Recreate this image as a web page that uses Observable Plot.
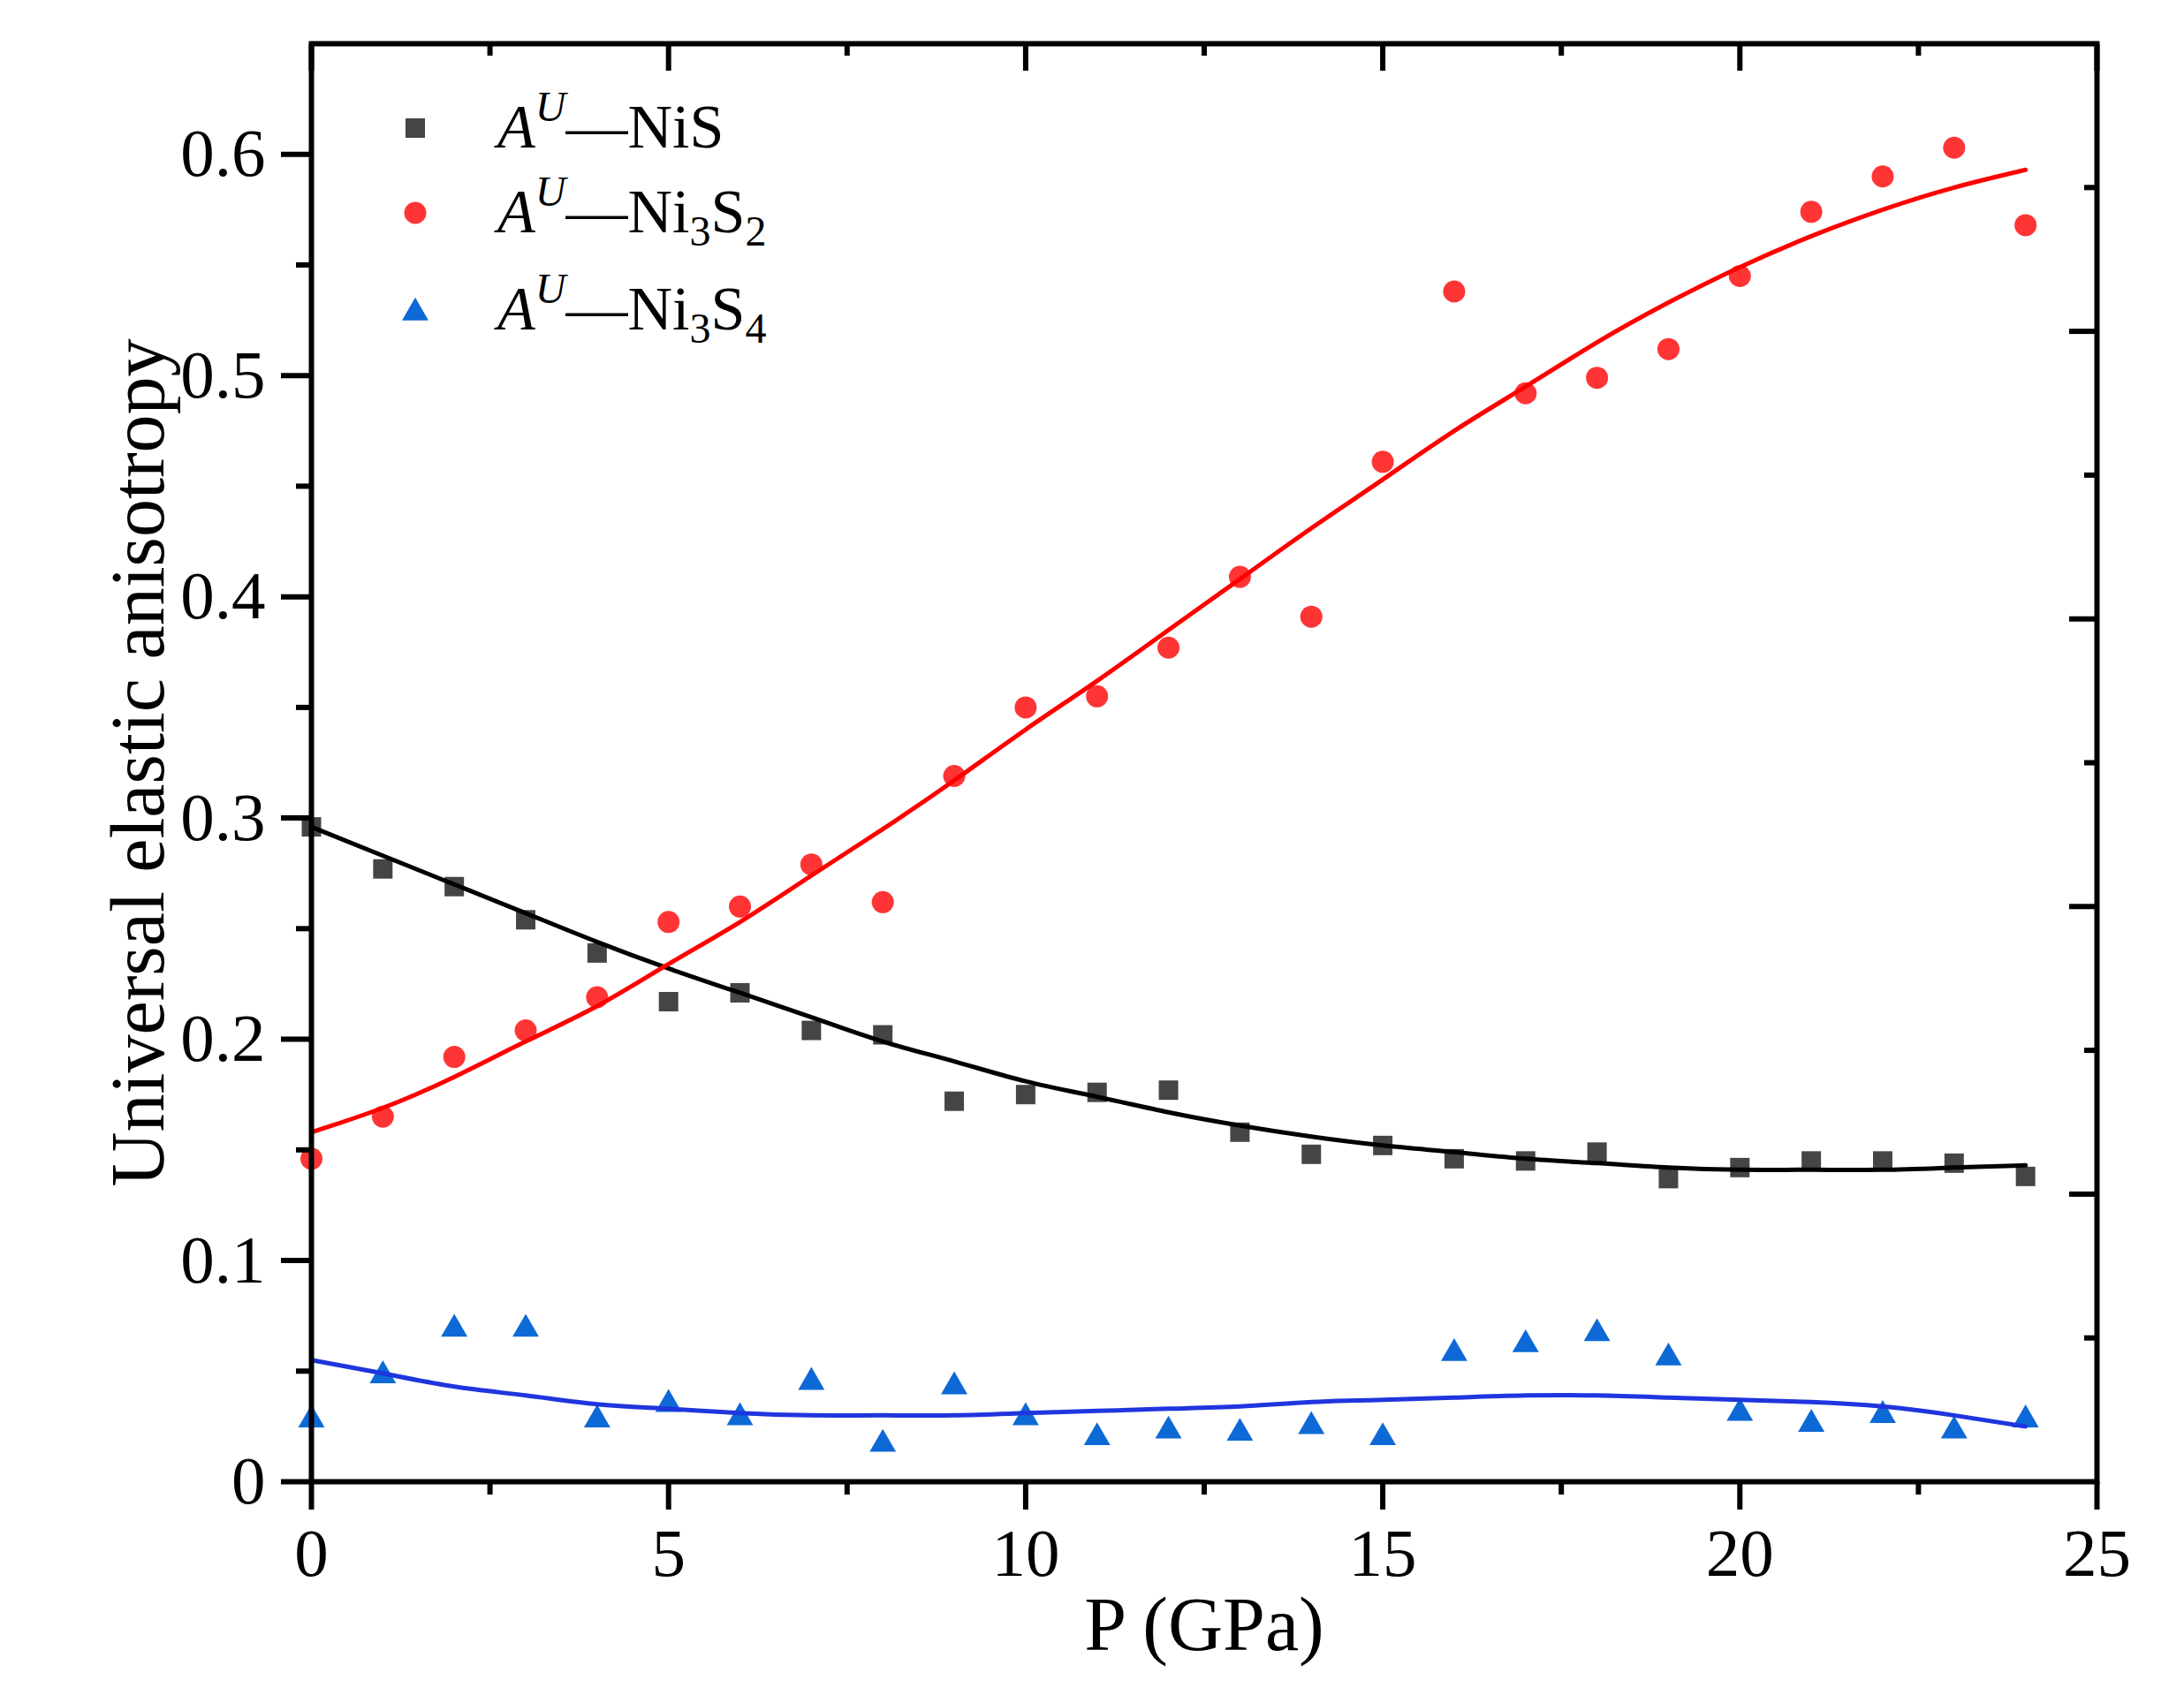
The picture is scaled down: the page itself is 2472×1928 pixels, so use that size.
<!DOCTYPE html>
<html>
<head>
<meta charset="utf-8">
<script src="https://cdn.jsdelivr.net/npm/d3@7"></script>
<script src="https://cdn.jsdelivr.net/npm/@observablehq/plot@0.6"></script>
<style>
  body { margin: 0; background: #fff; }
  #chart svg { display: block; }
</style>
</head>
<body>
<div id="chart"></div>
<script>
// pressure steps (GPa)
const pressure = [0, 1, 2, 3, 4, 5, 6, 7, 8, 9, 10, 11, 12, 13, 14, 15, 16, 17, 18, 19, 20, 21, 22, 23, 24];

// measured A^U values
const nis   = [0.296, 0.277, 0.269, 0.254, 0.239, 0.217, 0.221, 0.204, 0.202, 0.172, 0.175, 0.176, 0.177,
               0.158, 0.148, 0.152, 0.146, 0.145, 0.149, 0.137, 0.142, 0.145, 0.145, 0.144, 0.138];
const ni3s2 = [0.146, 0.165, 0.192, 0.204, 0.219, 0.253, 0.260, 0.279, 0.262, 0.319, 0.350, 0.355, 0.377,
               0.409, 0.391, 0.461, 0.538, 0.492, 0.499, 0.512, 0.545, 0.574, 0.590, 0.603, 0.568];
const ni3s4 = [0.028, 0.048, 0.069, 0.069, 0.028, 0.035, 0.029, 0.045, 0.017, 0.043, 0.029, 0.020, 0.023,
               0.022, 0.025, 0.020, 0.058, 0.062, 0.067, 0.056, 0.031, 0.026, 0.030, 0.023, 0.028];

// fitted curves, read at each pressure step
const nisFit   = [0.296, 0.283, 0.270, 0.257, 0.244, 0.232, 0.221, 0.210, 0.199, 0.190, 0.181, 0.174, 0.167,
                  0.161, 0.156, 0.152, 0.149, 0.146, 0.144, 0.142, 0.141, 0.141, 0.141, 0.142, 0.143];
const ni3s2Fit = [0.158, 0.169, 0.183, 0.199, 0.215, 0.234, 0.253, 0.274, 0.295, 0.317, 0.340, 0.362, 0.385,
                  0.408, 0.431, 0.453, 0.475, 0.495, 0.515, 0.533, 0.549, 0.563, 0.575, 0.585, 0.593];
const ni3s4Fit = [0.055, 0.049, 0.043, 0.039, 0.035, 0.033, 0.031, 0.030, 0.030, 0.030, 0.031, 0.032, 0.033,
                  0.034, 0.036, 0.037, 0.038, 0.039, 0.039, 0.038, 0.037, 0.036, 0.034, 0.030, 0.025];

// ticks
const xMajor = [0, 5, 10, 15, 20, 25];
const xMinor = [2.5, 7.5, 12.5, 17.5, 22.5];
const yMajor = [0, 0.1, 0.2, 0.3, 0.4, 0.5, 0.6];
const yMinor = [0.05, 0.15, 0.25, 0.35, 0.45, 0.55];
const rightMajor = [0.13, 0.26, 0.39, 0.52];
const rightMinor = [0.065, 0.195, 0.325, 0.455, 0.585];

const xLabel = "P (GPa)";
const yLabel = "Universal elastic anisotropy";
const legendFormulas = [
  [["NiS", ""]],
  [["Ni", ""], ["3", "sub"], ["S", ""], ["2", "sub"]],
  [["Ni", ""], ["3", "sub"], ["S", ""], ["4", "sub"]]
];

const series = [
  {vals: nis,   fit: nisFit,   fill: "#454545", line: "#000000", symbol: "square",   r: 12.4},
  {vals: ni3s2, fit: ni3s2Fit, fill: "#ff3535", line: "#ff0000", symbol: "circle",   r: 12.5},
  {vals: ni3s4, fit: ni3s4Fit, fill: "#0d69d6", line: "#1f35dd", symbol: "triangle", r: 11.1}
];

const rows = s => pressure.map((p, i) => ({p, v: s.vals[i], f: s.fit[i]}));

const font = "Liberation Serif, Times New Roman, serif";
const blank = () => "";
const axisW = 6;

const chart = Plot.plot({
  width: 2472,
  height: 1928,
  marginLeft: 352,
  marginRight: 99,
  marginTop: 49,
  marginBottom: 251,
  style: {fontFamily: font, background: "#fff", color: "#000"},
  x: {domain: [0, 25], label: null},
  y: {domain: [0, 0.65], label: null},
  marks: [
    ...series.map(s => Plot.dot(rows(s), {x: "p", y: "v", symbol: () => s.symbol, fill: s.fill, r: s.r})),
    ...series.map(s => Plot.line(rows(s), {x: "p", y: "f", stroke: s.line, strokeWidth: 5, curve: "natural"})),

    Plot.axisX(xMajor, {anchor: "bottom", tickSize: 32, tickPadding: 20, fontSize: 77, strokeWidth: axisW, tickFormat: d => String(d), label: null}),
    Plot.axisX(xMinor, {anchor: "bottom", tickSize: 15, strokeWidth: axisW, tickFormat: blank, label: null}),
    Plot.axisX(xMajor, {anchor: "top", tickSize: 30, dy: 30, strokeWidth: axisW, tickFormat: blank, label: null}),
    Plot.axisX(xMinor, {anchor: "top", tickSize: 13, dy: 13, strokeWidth: axisW, tickFormat: blank, label: null}),
    Plot.axisY(yMajor, {anchor: "left", tickSize: 34, tickPadding: 18, fontSize: 77, strokeWidth: axisW,
      tickFormat: d => d === 0 ? "0" : d.toFixed(1), label: null}),
    Plot.axisY(yMinor, {anchor: "left", tickSize: 17, strokeWidth: axisW, tickFormat: blank, label: null}),
    Plot.axisY(rightMajor, {anchor: "right", tickSize: 32, dx: -32, strokeWidth: axisW, tickFormat: blank, label: null}),
    Plot.axisY(rightMinor, {anchor: "right", tickSize: 15, dx: -15, strokeWidth: axisW, tickFormat: blank, label: null}),
    Plot.frame({stroke: "#000", strokeWidth: axisW}),

    Plot.text([xLabel], {text: d => d, frameAnchor: "bottom", dy: 163, fontSize: 86, lineAnchor: "middle"}),
    Plot.text([yLabel], {text: d => d, frameAnchor: "left", dx: -195, rotate: -90, fontSize: 86,
      textAnchor: "middle", lineAnchor: "middle"})
  ]
});

document.getElementById("chart").append(chart);

// legend inside the frame, top left
const svg = d3.select(chart);
const lg = svg.append("g")
  .attr("font-family", font)
  .attr("font-size", 70)
  .attr("fill", "#000")
  .attr("text-anchor", "start");
const symbolTypes = {square: d3.symbolSquare, circle: d3.symbolCircle, triangle: d3.symbolTriangle};
const symY = [145, 241, 354];
const textY = [167, 263, 373];

series.forEach((s, i) => {
  lg.append("path")
    .attr("transform", `translate(470,${symY[i]})`)
    .attr("d", d3.symbol(symbolTypes[s.symbol], Math.PI * s.r * s.r)())
    .attr("fill", s.fill);

  const t = lg.append("text").attr("x", 563).attr("y", textY[i]).attr("text-anchor", "start");
  t.append("tspan").attr("font-style", "italic").text("A");
  t.append("tspan").attr("font-style", "italic").attr("font-size", 48).attr("dy", -30).text("U");
  t.append("tspan").attr("dy", 30).text("\u2014");
  let shift = 0;
  legendFormulas[i].forEach(([txt, kind]) => {
    const want = kind === "sub" ? 15 : 0;
    const ts = t.append("tspan").attr("dy", want - shift).text(txt);
    if (kind === "sub") ts.attr("font-size", 48);
    shift = want;
  });
});
</script>
</body>
</html>
